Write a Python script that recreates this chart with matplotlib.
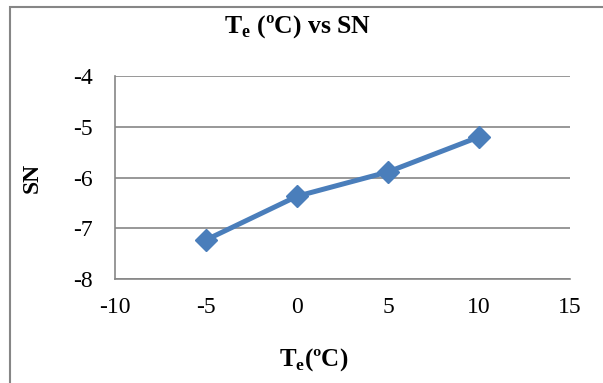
import matplotlib.pyplot as plt
from matplotlib.patches import Rectangle

plt.rcParams['font.family'] = ['Liberation Serif', 'DejaVu Serif']
plt.rcParams['mathtext.fontset'] = 'custom'
plt.rcParams['mathtext.rm'] = 'Liberation Serif'
plt.rcParams['mathtext.bf'] = 'Liberation Serif:bold'
plt.rcParams['axes.unicode_minus'] = False

te = [-5, 0, 5, 10]
sn = [-7.23, -6.37, -5.89, -5.2]
x_ticks = [-10, -5, 0, 5, 10, 15]
y_ticks = [-8, -7, -6, -5, -4]

fig = plt.figure(figsize=(6.03, 3.83), dpi=100)
# chart border (right and bottom edges fall outside the image)
fig.patches.append(Rectangle((10 / 603, -0.1), 1.1, 1.1 - 7 / 383, transform=fig.transFigure,
                             fill=False, edgecolor='#868686', linewidth=1.5))

ax = fig.add_axes([115 / 603, 1 - 279 / 383, 455 / 603, 203 / 383])
ax.plot(te, sn, color='#4A7EBB', linewidth=3.6, marker='D', markersize=11,
        markeredgecolor='#4A7EBB', markerfacecolor='#4A7EBB', solid_joinstyle='round',
        clip_on=False)

ax.set_xlim(-10, 15)
ax.set_ylim(-8, -4)
ax.set_xticks(x_ticks)
ax.set_yticks(y_ticks)
ax.tick_params(length=0, labelsize=17)
ax.tick_params(axis='x', pad=13)
ax.tick_params(axis='y', pad=16)
ax.yaxis.grid(True, color='#868686', linewidth=1.2)
ax.set_axisbelow(True)
for s in ['top', 'right']:
    ax.spines[s].set_visible(False)
for s in ['left', 'bottom']:
    ax.spines[s].set_color('#868686')
    ax.spines[s].set_linewidth(1.2)

fig.text(298 / 603, 1 - 27 / 383, r'T$_{\mathbf{e}}$ (ºC) vs SN', ha='center', va='center',
         fontsize=18.5, fontweight='bold')
fig.text(314 / 603, 1 - 360 / 383, r'T$_{\mathbf{e}}$(ºC)', ha='center', va='center',
         fontsize=18, fontweight='bold')
fig.text(32 / 603, 1 - 178 / 383, 'SN', ha='center', va='center', rotation=90,
         fontsize=17, fontweight='bold')

fig.savefig('out.png', dpi=100)
